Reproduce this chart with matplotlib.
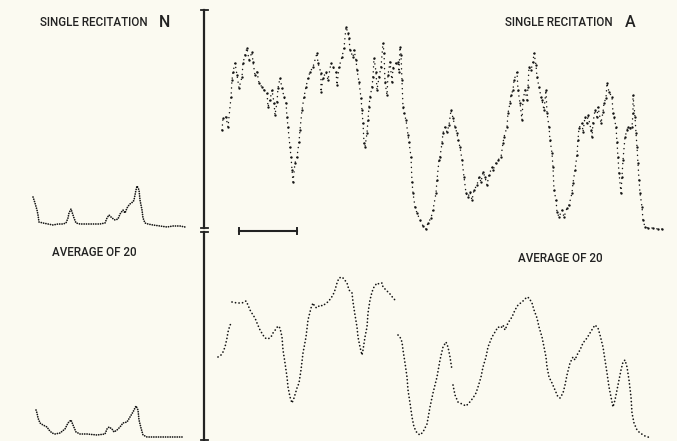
import matplotlib.pyplot as plt
import numpy as np

plt.rcParams['font.family'] = ['Roboto', 'Liberation Sans', 'DejaVu Sans']

# time (arbitrary units) and amplitude
# vowel A, single recitation
a_single_t = [18, 19, 22, 24, 27, 28, 29, 31, 33, 35, 38, 39, 41, 43, 45, 48, 49, 51, 53, 55,
              58, 60, 63, 64, 66, 68, 70, 71, 73, 74, 76, 78, 80, 82, 83, 84, 86, 87, 88, 89,
              91, 93, 95, 96, 98, 100, 102, 104, 106, 109, 113, 114, 117, 117, 119, 122, 124, 127, 129, 132,
              133, 135, 138, 140, 142, 144, 145, 146, 149, 150, 152, 153, 155, 157, 158, 159, 160, 161, 163, 164,
              165, 166, 168, 169, 170, 172, 173, 175, 177, 179, 180, 181, 183, 184, 186, 188, 189, 192, 194, 195,
              196, 197, 198, 199, 200, 202, 204, 205, 207, 208, 209, 211, 213, 216, 219, 222, 224, 227, 229, 232,
              233, 235, 236, 238, 239, 241, 243, 245, 247, 249, 251, 253, 254, 256, 258, 260, 262, 264, 266, 268,
              270, 273, 275, 277, 279, 281, 283, 285, 288, 289, 292, 294, 297, 299, 300, 303, 304, 306, 307, 309,
              310, 313, 314, 316, 318, 319, 321, 323, 324, 325, 327, 329, 330, 332, 333, 335, 337, 338, 340, 342,
              343, 345, 346, 348, 349, 350, 352, 353, 355, 358, 360, 363, 365, 368, 369, 371, 373, 374, 375, 378,
              379, 381, 383, 384, 387, 388, 389, 391, 393, 394, 397, 399, 400, 402, 403, 405, 408, 409, 410, 412,
              413, 414, 415, 417, 418, 419, 421, 423, 424, 426, 428, 429, 429, 431, 432, 433, 434, 435, 436, 438,
              439, 441, 444, 449, 454, 458]
a_single_v = [100, 112, 113, 103, 133, 150, 158, 167, 155, 142, 153, 167, 175, 182, 170, 178, 168, 155, 158, 147,
              143, 140, 137, 123, 130, 140, 127, 115, 128, 142, 152, 142, 133, 127, 113, 103, 83, 73, 60, 48,
              67, 73, 88, 100, 120, 133, 143, 152, 158, 163, 177, 167, 157, 138, 152, 158, 150, 167, 163, 158,
              145, 163, 173, 182, 203, 197, 192, 180, 173, 180, 170, 160, 148, 132, 120, 107, 87, 83, 97, 110,
              123, 133, 143, 153, 172, 158, 140, 153, 163, 187, 177, 148, 135, 155, 168, 148, 162, 167, 168, 158,
              183, 175, 150, 123, 117, 110, 95, 88, 73, 48, 37, 23, 17, 10, 4, 1, 7, 12, 20, 37,
              50, 70, 73, 87, 97, 103, 98, 105, 120, 112, 103, 97, 90, 83, 70, 53, 37, 33, 38, 30,
              40, 45, 53, 48, 58, 53, 45, 55, 63, 60, 67, 70, 73, 87, 93, 103, 117, 127, 135, 140,
              150, 158, 140, 127, 110, 130, 140, 130, 143, 163, 160, 168, 177, 165, 153, 143, 133, 130, 120, 140,
              117, 103, 90, 77, 63, 40, 30, 18, 13, 20, 13, 22, 25, 37, 47, 60, 75, 90, 102, 107,
              98, 113, 107, 115, 100, 93, 107, 120, 113, 123, 107, 118, 127, 132, 147, 138, 133, 117, 113, 103,
              88, 73, 57, 37, 53, 70, 93, 100, 103, 102, 103, 117, 135, 113, 97, 83, 67, 50, 37, 23,
              10, 3, 2, 2, 1, 1]

# vowel A, average of 20 (four pen segments)
a_avg_t = [
    [14, 17, 19, 21, 23, 24, 26, 28],
    [28, 33, 38, 42, 44, 46, 49, 51, 53, 56, 59, 61, 64, 67, 69, 72, 74, 76, 78, 79,
     81, 83, 84, 86, 88, 90, 93, 95, 97, 99, 102, 104, 107, 109, 111, 113, 116, 119, 122, 124,
     127, 129, 131, 133, 135, 138, 140, 143, 145, 148, 149, 151, 153, 154, 156, 158, 159, 161, 163, 164,
     166, 168, 170, 173, 175, 178, 179, 182, 184, 187, 189, 192],
    [194, 196, 198, 199, 201, 203, 204, 206, 208, 210, 213, 216, 219, 223, 226, 229, 233, 236, 239, 242,
     244, 246, 248],
    [249, 251, 254, 258, 262, 265, 269, 272, 274, 277, 279, 282, 284, 288, 291, 294, 297, 299, 301, 304,
     308, 311, 314, 318, 320, 323, 325, 328, 330, 333, 335, 338, 340, 342, 343, 345, 348, 351, 354, 356,
     359, 361, 363, 366, 369, 371, 373, 376, 379, 383, 386, 389, 391, 394, 396, 399, 401, 403, 405, 407,
     409, 411, 413, 415, 417, 419, 421, 423, 425, 427, 428, 430, 433, 436, 441, 447],
]
a_avg_v = [
    [84, 86, 89, 94, 103, 109, 116, 118],
    [139, 138, 138, 140, 136, 131, 126, 123, 118, 111, 106, 103, 102, 104, 108, 112, 115, 113, 104, 91,
     78, 64, 54, 44, 38, 43, 53, 58, 71, 88, 104, 121, 133, 138, 134, 133, 136, 135, 138, 139,
     143, 146, 151, 158, 163, 164, 162, 158, 151, 148, 139, 126, 114, 104, 94, 86, 91, 104, 114, 128,
     141, 149, 154, 158, 157, 158, 154, 151, 149, 146, 143, 140],
    [106, 104, 99, 91, 78, 64, 51, 38, 24, 14, 8, 6, 9, 17, 34, 48, 64, 81, 94, 99,
     94, 84, 71],
    [56, 46, 39, 37, 35, 38, 43, 48, 54, 64, 74, 84, 94, 104, 109, 114, 113, 116, 111, 118,
     124, 131, 136, 139, 141, 144, 143, 138, 131, 123, 114, 104, 94, 84, 74, 64, 58, 51, 44, 43,
     48, 56, 66, 78, 84, 81, 86, 91, 98, 103, 108, 113, 116, 113, 106, 94, 81, 68, 54, 44,
     34, 41, 51, 61, 71, 79, 81, 74, 61, 44, 28, 18, 11, 8, 5, 3],
]

# vowel N, single recitation and average of 20
n_single_t = [3, 5, 7, 8, 9, 13, 18, 23, 28, 33, 36, 38, 39, 41, 42, 44, 46, 50, 57, 63,
              70, 75, 77, 79, 82, 85, 88, 90, 93, 95, 97, 99, 101, 103, 104, 106, 107, 109, 110, 112,
              113, 115, 118, 123, 130, 137, 143, 150, 155]
n_single_v = [33, 27, 20, 15, 8, 7, 6, 5, 6, 6, 7, 12, 17, 21, 18, 12, 7, 6, 6, 6,
              6, 7, 12, 15, 12, 10, 11, 16, 20, 17, 22, 25, 27, 28, 30, 40, 44, 40, 30, 20,
              12, 7, 6, 5, 4, 3, 4, 4, 3]
n_avg_t = [6, 7, 8, 10, 13, 17, 19, 22, 25, 30, 35, 38, 41, 43, 46, 50, 57, 67, 75, 77,
           79, 82, 84, 87, 90, 93, 97, 100, 103, 106, 108, 109, 111, 113, 117, 123, 137, 153]
n_avg_v = [31, 28, 23, 18, 16, 14, 11, 8, 7, 8, 12, 18, 21, 16, 9, 7, 7, 6, 7, 12,
           14, 12, 9, 11, 14, 18, 19, 24, 29, 35, 31, 21, 13, 6, 4, 4, 4, 4]

W, H = 677, 441
paper = '#fbfaf1'
ink = '#141414'
rule = '#222222'

fig = plt.figure(figsize=(W / 100, H / 100), dpi=100, facecolor=paper)


def panel(x0, x1, ytop, ybot, xmax, ymax):
    ax = fig.add_axes([x0 / W, 1 - ybot / H, (x1 - x0) / W, (ybot - ytop) / H])
    ax.set_xlim(0, xmax)
    ax.set_ylim(0, ymax)
    ax.set_facecolor('none')
    for s in ax.spines.values():
        s.set_visible(False)
    ax.set_xticks([])
    ax.set_yticks([])
    return ax


ax_a1 = panel(204, 677, 0, 230, 473, 230)
ax_a2 = panel(204, 677, 232, 441, 473, 209)
ax_n1 = panel(30, 204, 0, 230, 174, 230)
ax_n2 = panel(30, 204, 232, 441, 174, 209)

dot = dict(color=ink, linestyle=(0, (0.05, 2.0)), linewidth=1.25,
           dash_capstyle='round', solid_capstyle='round')
dense = dict(dot, linestyle=(0, (0.05, 1.3)))
sparse = dict(dot, linestyle=(0, (0.05, 3.2)), linewidth=1.1)

ax_a1.plot(a_single_t, a_single_v, **sparse)
ax_a1.plot(a_single_t, a_single_v, 'o', ms=1.7, mew=0, color=ink)
for t, v in zip(a_avg_t, a_avg_v):
    ax_a2.plot(t, v, **dot)
ax_n1.plot(n_single_t, n_single_v, **dense)
ax_n2.plot(n_avg_t, n_avg_v, **dense)

# amplitude axis with its break, and the time scale bar
for ax, lo, hi in [(ax_a1, 2, 220), (ax_a2, 1, 209)]:
    ax.spines['left'].set_visible(True)
    ax.spines['left'].set_bounds(lo, hi)
    ax.spines['left'].set_linewidth(1.6)
    ax.spines['left'].set_color(rule)
ax_a1.plot([-3, 4], [220, 220], color=rule, lw=1.3, clip_on=False)
ax_a1.plot([-3, 4], [2, 2], color=rule, lw=1.3, clip_on=False)
ax_a2.plot([-3, 4], [209, 209], color=rule, lw=1.3, clip_on=False)
ax_a2.plot([-3, 4], [1, 1], color=rule, lw=1.3, clip_on=False)

ax_a1.plot([35, 93], [-1, -1], color=rule, lw=1.5, clip_on=False)
ax_a1.plot([35, 35], [-4, 2], color=rule, lw=1.4, clip_on=False)
ax_a1.plot([93, 93], [-4, 2], color=rule, lw=1.4, clip_on=False)

lab = dict(color=rule, fontsize=8.4, fontweight='medium', va='center', ha='left')
big = dict(color=rule, fontsize=11.5, fontweight='medium', va='center', ha='left')
fig.text(40 / W, 1 - 23 / H, 'SINGLE RECITATION', **lab)
fig.text(159 / W, 1 - 22.5 / H, 'N', **big)
fig.text(505 / W, 1 - 23 / H, 'SINGLE RECITATION', **lab)
fig.text(625 / W, 1 - 22.5 / H, 'A', **big)
fig.text(52 / W, 1 - 252 / H, 'AVERAGE OF 20', **lab)
fig.text(518 / W, 1 - 258 / H, 'AVERAGE OF 20', **lab)

fig.savefig('out.png', dpi=100, facecolor=paper)
